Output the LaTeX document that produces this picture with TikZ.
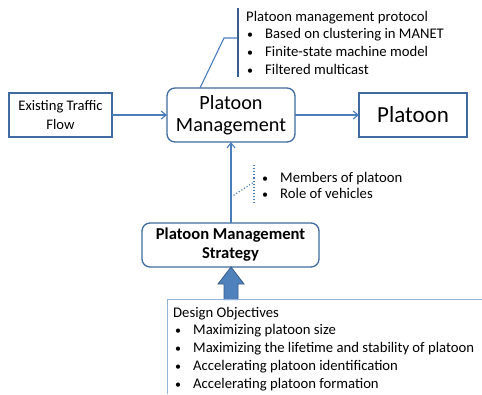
\documentclass[tikz,border=0pt]{standalone}
\usepackage{fontspec}
\setmainfont{Carlito}
\usetikzlibrary{arrows.meta}
\definecolor{boxline}{HTML}{3F6B9E}
\definecolor{conn}{HTML}{4A7EBB}
\definecolor{fillblue}{HTML}{4F81BD}
\definecolor{darkblue}{HTML}{385D8A}
\definecolor{lightline}{HTML}{95B3D7}
\tikzset{
  plainbox/.style={draw=boxline, line width=1.3pt, fill=white},
  roundbox/.style={draw=boxline, line width=1.3pt, rounded corners=8pt, fill=white},
  conn/.style={draw=conn, line width=1.1pt},
  flow/.style={conn, -{Straight Barb[length=5pt,width=8pt]}},
  txt/.style={anchor=base west, inner sep=0pt, font=\fontsize{14.7}{17}\selectfont},
  bul/.style={anchor=base west, inner sep=0pt, font=\fontsize{12}{15}\selectfont},
}
\begin{document}
\begin{tikzpicture}[x=1pt,y=-1pt]
\useasboundingbox (0,0) rectangle (482,394);

% main boxes
\draw[plainbox] (9,93) rectangle (112,137);
\node[align=center, font=\fontsize{14.6}{19}\selectfont] (flow) at (60.5,115) {Existing Traffic\\Flow};
\coordinate (flowE) at (112,115);

\draw[roundbox] (167,88) rectangle (295,142);
\node[align=center, font=\fontsize{20.2}{22.5}\selectfont] (pm) at (231,115) {Platoon\\Management};
\coordinate (pmW) at (167,115);
\coordinate (pmE) at (295,115);
\coordinate (pmS) at (231,142);
\coordinate (pmN) at (200,88);

\draw[plainbox] (359,93) rectangle (467,137);
\node[font=\fontsize{23}{26}\selectfont] (plat) at (413,115) {Platoon};
\coordinate (platW) at (359,115);

\draw[roundbox] (142,223) rectangle (319,267);
\node[align=center, font=\fontsize{16.6}{19}\selectfont\bfseries] (pms) at (230.5,245) {Platoon Management\\Strategy};
\coordinate (pmsN) at (231,223);
\coordinate (pmsS) at (231,267);

% connectors
\draw[flow] (flowE) -- (pmW);
\draw[flow] (pmE) -- (platW);
\draw[flow] (pmsN) -- (pmS);

% protocol callout
\coordinate (cbend) at (224,38);
\coordinate (cbar) at (238,38);
\draw[conn] (pmN) -- (cbend) -- (cbar);
\draw[draw=darkblue, line width=1.3pt] (238,8) -- (238,77);
\node[txt] (p0) at (246,21) {Platoon management protocol};
\node[bul] (b1) at (247,38) {\textbullet};
\node[txt] (p1) at (265,38) {Based on clustering in MANET};
\node[bul] (b2) at (247,56) {\textbullet};
\node[txt] (p2) at (265,56) {Finite-state machine model};
\node[bul] (b3) at (247,74) {\textbullet};
\node[txt] (p3) at (265,74) {Filtered multicast};

% members callout (dotted)
\coordinate (dstart) at (231,197);
\coordinate (dbar) at (254,182);
\draw[conn, dotted, line width=1.2pt] (dstart) -- (dbar);
\draw[conn, dotted, line width=1.2pt] (254,165) -- (254,203);
\node[bul] (m1) at (262,182) {\textbullet};
\node[txt] (mt1) at (280,182) {Members of platoon};
\node[bul] (m2) at (262,198) {\textbullet};
\node[txt] (mt2) at (280,198) {Role of vehicles};

% block arrow into the strategy box
\draw[fill=fillblue, draw=darkblue, line width=0.8pt]
  (224,300) -- (224,284) -- (218,284) -- (pmsS) -- (244,284) -- (238,284) -- (238,300);

% design objectives panel
\draw[draw=lightline, line width=1pt] (167,394) -- (167,299) -- (482,299);
\node[txt] (d0) at (173,317) {Design Objectives};
\node[bul] (db1) at (175,334) {\textbullet};
\node[txt] (d1) at (193,334) {Maximizing platoon size};
\node[bul] (db2) at (175,352) {\textbullet};
\node[txt] (d2) at (193,352) {Maximizing the lifetime and stability of platoon};
\node[bul] (db3) at (175,370) {\textbullet};
\node[txt] (d3) at (193,370) {Accelerating platoon identification};
\node[bul] (db4) at (175,388) {\textbullet};
\node[txt] (d4) at (193,388) {Accelerating platoon formation};
\end{tikzpicture}
\end{document}
